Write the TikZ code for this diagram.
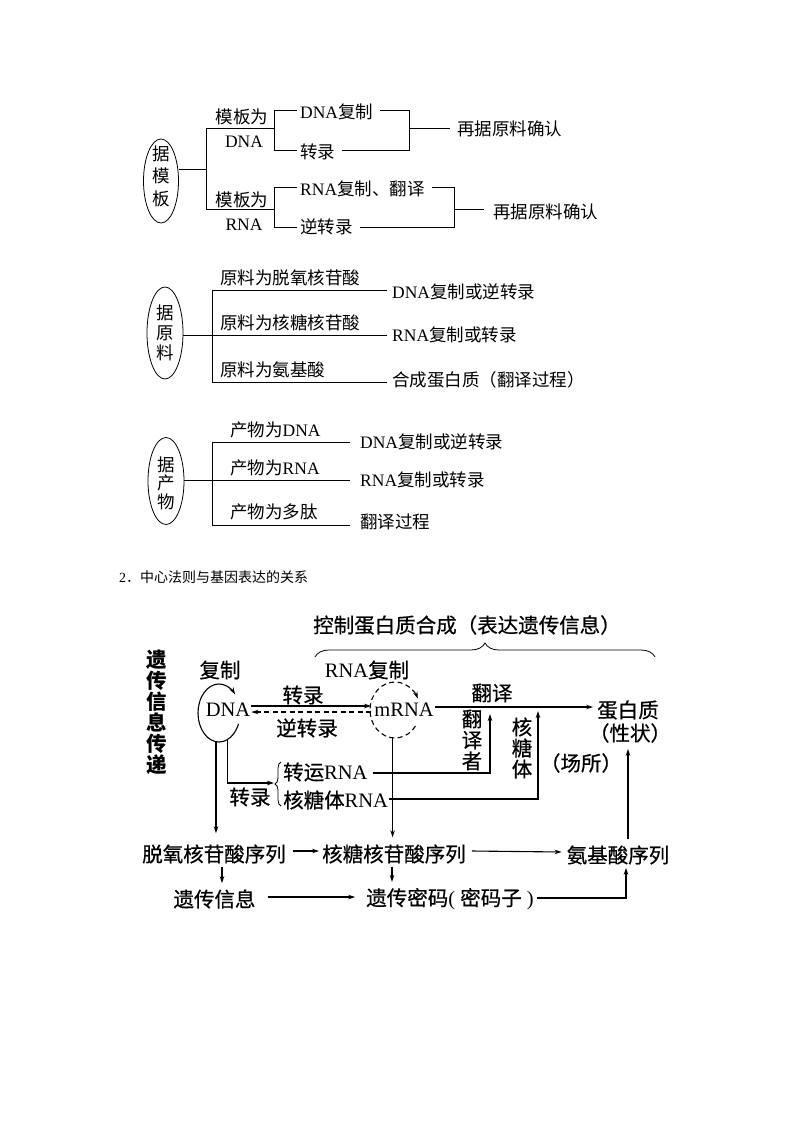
\documentclass[tikz,border=0pt]{standalone}
\usepackage{fontspec}
\setmainfont{Liberation Serif}
\newfontfamily\cjk{Noto Sans CJK SC}
\newfontfamily\cjkm[FakeBold=0.6]{Noto Sans CJK SC}
\usetikzlibrary{arrows.meta,shapes.geometric,decorations.pathreplacing}
\newcommand\lat[1]{{\rmfamily #1}}
\begin{document}
\begin{tikzpicture}[x=1pt,y=1pt,
  ta/.style={inner sep=0pt, font=\cjk\fontsize{17.5}{21}\selectfont},
  tb/.style={inner sep=0pt, font=\cjkm\fontsize{20.5}{22}\selectfont},
  ln1/.style={line width=0.8pt},
  ln2/.style={line width=1.1pt},
  arr/.style={ln2, -{Stealth[length=7pt,width=4.5pt]}},
  ell/.style={draw, ellipse, ln1, inner sep=0pt, outer sep=0pt},
  hid/.style={ellipse, inner sep=0pt, outer sep=0pt},
  rowtxt/.style={tb, inner xsep=3pt, inner ysep=0pt},
]
\useasboundingbox (0,0) rectangle (800,-1132);

% ================= Section 1 : by template =================
\node[ell, minimum width=35pt, minimum height=84pt] (e1) at (161,-181) {};
\node[ta, align=center, font=\cjk\fontsize{17.5}{22.5}\selectfont] (e1t) at (161,-176) {据\\模\\板};
\coordinate (j1) at (206,-169);
\coordinate (j1t) at (206,-128);
\coordinate (j1b) at (206,-209);
\coordinate (a1m) at (274,-128);
\coordinate (a1t) at (274,-110);
\coordinate (a1b) at (274,-150);
\coordinate (a2t) at (409,-110);
\coordinate (a2b) at (409,-150);
\coordinate (a2m) at (409,-128);
\coordinate (b1m) at (274,-209);
\coordinate (b1t) at (274,-187);
\coordinate (b1b) at (274,-227);
\coordinate (b2t) at (454,-187);
\coordinate (b2b) at (454,-227);
\coordinate (b2m) at (454,-209);

\node[ta] (m1) at (242,-117) {模板为};
\node[ta] (m1d) at (244,-142) {\lat{DNA}};
\node[ta] (m2) at (242,-200) {模板为};
\node[ta] (m2r) at (244,-225) {\lat{RNA}};
\node[ta, anchor=west] (tA1) at (300,-112) {\lat{DNA}复制};
\node[ta, anchor=west] (tA2) at (300,-152) {转录};
\node[ta, anchor=west] (tA3) at (457,-129) {再据原料确认};
\node[ta, anchor=west] (tB1) at (300,-189) {\lat{RNA}复制、翻译};
\node[ta, anchor=west] (tB2) at (300,-227) {逆转录};
\node[ta, anchor=west] (tB3) at (493,-212) {再据原料确认};

\draw[ln1] (e1.east |- j1) -- (j1);
\draw[ln1] (j1t) -- (j1b);
\draw[ln1] (j1t) -- (a1m);
\draw[ln1] (j1b) -- (b1m);
\draw[ln1] (a1t) -- (a1b);
\draw[ln1] (a1t) -- ([xshift=-3pt]tA1.west |- a1t);
\draw[ln1] ([xshift=7pt]tA1.east |- a2t) -- (a2t) -- (a2b) -- ([xshift=7pt]tA2.east |- a2b);
\draw[ln1] (a1b) -- ([xshift=-3pt]tA2.west |- a1b);
\draw[ln1] (a2m) -- ([xshift=-7pt]tA3.west |- a2m);
\draw[ln1] (b1t) -- (b1b);
\draw[ln1] (b1t) -- ([xshift=-3pt]tB1.west |- b1t);
\draw[ln1] ([xshift=7pt]tB1.east |- b2t) -- (b2t) -- (b2b) -- ([xshift=7pt]tB2.east |- b2b);
\draw[ln1] (b1b) -- ([xshift=-3pt]tB2.west |- b1b);
\draw[ln1] (b2m) -- ([xshift=-9pt]tB3.west |- b2m);

% ================= Section 2 : by raw material =================
\node[ell, minimum width=36pt, minimum height=92pt] (e2) at (165,-333) {};
\node[ta, align=center, font=\cjk\fontsize{17.5}{20}\selectfont] (e2t) at (165,-333) {据\\原\\料};
\coordinate (j2) at (212,-335);
\coordinate (j2t) at (212,-290);
\coordinate (j2b) at (212,-382);
\node[ta, anchor=west] (p1) at (220,-278) {原料为脱氧核苷酸};
\node[ta, anchor=west] (p2) at (220,-323) {原料为核糖核苷酸};
\node[ta, anchor=west] (p3) at (220,-370) {原料为氨基酸};
\node[ta, anchor=west] (q1) at (392,-292) {\lat{DNA}复制或逆转录};
\node[ta, anchor=west] (q2) at (392,-335) {\lat{RNA}复制或转录};
\node[ta, anchor=west] (q3) at (392,-380) {合成蛋白质（翻译过程）};
\draw[ln1] (e2.east |- j2) -- (j2);
\draw[ln1] (j2t) -- (j2b);
\draw[ln1] (j2t) -- ([xshift=-5pt]q1.west |- j2t);
\draw[ln1] (j2) -- ([xshift=-5pt]q2.west |- j2);
\draw[ln1] (j2b) -- ([xshift=-5pt]q3.west |- j2b);

% ================= Section 3 : by product =================
\node[ell, minimum width=36pt, minimum height=87pt] (e3) at (166,-481) {};
\node[ta, align=center, font=\cjk\fontsize{17.5}{18.5}\selectfont] (e3t) at (166,-483) {据\\产\\物};
\coordinate (j3) at (212,-480);
\coordinate (j3t) at (212,-442);
\coordinate (j3b) at (212,-525);
\node[ta, anchor=west] (u1) at (230,-430) {产物为\lat{DNA}};
\node[ta, anchor=west] (u2) at (230,-468) {产物为\lat{RNA}};
\node[ta, anchor=west] (u3) at (230,-512) {产物为多肽};
\node[ta, anchor=west] (w1) at (360,-442) {\lat{DNA}复制或逆转录};
\node[ta, anchor=west] (w2) at (360,-480) {\lat{RNA}复制或转录};
\node[ta, anchor=west] (w3) at (360,-522) {翻译过程};
\draw[ln1] (e3.east |- j3) -- (j3);
\draw[ln1] (j3t) -- (j3b);
\draw[ln1] (j3t) -- ([xshift=-10pt]w1.west |- j3t);
\draw[ln1] (j3) -- ([xshift=-10pt]w2.west |- j3);
\draw[ln1] (j3b) -- ([xshift=-10pt]w3.west |- j3b);

% ================= Heading =================
\node[inner sep=0pt, anchor=west, font=\cjk\fontsize{14}{16}\selectfont] (head) at (119,-577) {\lat{2}．中心法则与基因表达的关系};

% ================= Central dogma diagram =================
\node[tb] (title) at (467,-625) {控制蛋白质合成（表达遗传信息）};
\coordinate (brL) at (315,-657);
\coordinate (brR) at (655,-657);
\draw[ln1, decorate, decoration={brace, amplitude=14pt}] (brL) -- (brR);

\node[tb, align=center, font=\cjk\bfseries\fontsize{20.5}{21}\selectfont] (vt) at (157,-712.5) {遗\\传\\信\\息\\传\\递};

\node[tb] (fuzhi) at (220,-670) {复制};
\node[tb, inner sep=1pt] (dna) at (228,-710) {\lat{DNA}};
\node[hid, minimum width=42pt, minimum height=58pt] (dnaE) at (219,-713) {};
\draw[arr] ([shift={(-22:21 and 29)}]dnaE.center) arc[start angle=-22, end angle=-320, x radius=21, y radius=29];

\node[tb] (rnafz) at (367,-670) {\lat{RNA}复制};
\node[tb, inner sep=1pt] (mrna) at (404,-710) {\lat{mRNA}};
\node[hid, minimum width=50pt, minimum height=56pt] (mrnaE) at (395,-710) {};
\draw[arr, dash pattern=on 5pt off 3.5pt] ([shift={(-35:25 and 28)}]mrnaE.center) arc[start angle=-35, end angle=-336, x radius=25, y radius=28];

\draw[arr] ([yshift=4pt]dna.east) -- ([xshift=-2pt,yshift=4pt]mrna.west);
\draw[arr, dash pattern=on 5pt off 3.5pt] ([xshift=-2pt,yshift=-2pt]mrna.west) -- ([yshift=-2pt]dna.east);
\node[tb] (zl1) at (303,-695) {转录};
\node[tb] (nzl) at (307,-728) {逆转录};

\node[tb] (dbz) at (628,-710) {蛋白质};
\node[tb] (xz) at (630,-733) {（性状）};
\draw[arr] ([yshift=3pt]mrna.east) -- ([xshift=-4pt,yshift=3pt]mrna.east -| dbz.west);
\node[tb] (fy) at (492,-693) {翻译};
\node[tb, align=center, font=\cjkm\fontsize{20.5}{21}\selectfont] (fyz) at (472,-740) {翻\\译\\者};
\node[tb, align=center, font=\cjkm\fontsize{20.5}{21}\selectfont] (htt) at (522,-748) {核\\糖\\体};
\node[tb] (cs) at (581,-763) {（场所）};

\node[tb, anchor=west] (zy) at (283,-772) {转运\lat{RNA}};
\node[tb, anchor=west] (htr) at (283,-800) {核糖体\lat{RNA}};
\coordinate (fyzb) at (490,-773);
\coordinate (fyzt) at (490,-714);
\coordinate (httb) at (538,-799);
\coordinate (httt) at (538,-711);
\draw[arr] ([xshift=5pt]zy.east |- fyzb) -- (fyzb) -- (fyzt);
\draw[arr] ([xshift=1pt]htr.east |- httb) -- (httb) -- (httt);

\coordinate (zbB) at (281,-806);
\coordinate (zbT) at (281,-762);
\draw[ln1, decorate, decoration={brace, amplitude=6pt}] (zbB) -- (zbT);
\coordinate (cusp) at (274,-783);
\draw[arr] (dnaE.-72) |- (cusp);
\node[tb] (zl2) at (250,-797) {转录};

% rows
\node[rowtxt] (r1a) at (214,-854) {脱氧核苷酸序列};
\node[rowtxt] (r1b) at (394,-854) {核糖核苷酸序列};
\node[rowtxt] (r1c) at (618,-855) {氨基酸序列};
\node[rowtxt] (r2a) at (214.5,-899) {遗传信息};
\node[rowtxt] (r2b) at (450,-899) {遗传密码\lat{( }密码子\lat{ )}};

\draw[arr] (dnaE.-96) -- ([yshift=11pt]dnaE.-96 |- r1a.north);
\draw[arr] (mrnaE.-95) -- ([yshift=7pt]mrnaE.-95 |- r1b.north);
\draw[arr] ([xshift=4pt,yshift=3pt]r1a.east) -- ([yshift=3pt]r1b.west);
\draw[arr] ([xshift=3pt,yshift=3pt]r1b.east) -- ([xshift=-2pt,yshift=3pt]r1c.west);
\draw[arr, shorten <=3pt, shorten >=6pt] ([xshift=8pt]r1a.south) -- ([xshift=8pt]r1a.south |- r2a.north);
\draw[arr, shorten <=3pt, shorten >=6pt] ([xshift=-2pt]r1b.south) -- ([xshift=-2pt]r1b.south |- r2b.north);
\draw[arr] ([xshift=9pt,yshift=2pt]r2a.east) -- ([xshift=-8pt,yshift=2pt]r2b.west);
\draw[arr] ([yshift=1pt]r2b.east) -| ([xshift=8pt,yshift=-3pt]r1c.south);
\draw[arr, shorten <=6pt, shorten >=6pt] ([xshift=10pt]r1c.north) -- ([xshift=10pt]r1c.north |- xz.south);
\end{tikzpicture}
\end{document}
